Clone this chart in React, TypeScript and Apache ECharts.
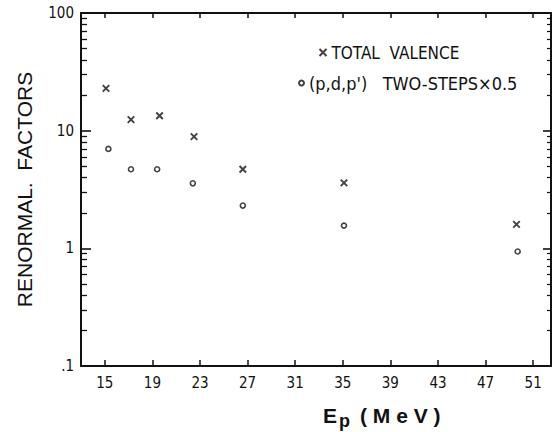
import React, { useEffect, useRef } from "react";
import * as echarts from "echarts";

// ---- data ----
const energiesValence = [15.1, 17.2, 19.6, 22.5, 26.6, 35.1, 49.6];
const valence = [22.9, 12.4, 13.4, 8.9, 4.7, 3.6, 1.6];
const energiesTwoStep = [15.3, 17.2, 19.4, 22.4, 26.6, 35.1, 49.7];
const twoStep = [7.0, 4.7, 4.7, 3.57, 2.31, 1.56, 0.94];

const xTickValues = [15, 19, 23, 27, 31, 35, 39, 43, 47, 51];
const yMajorTickValues = [1, 10];
const decades = [0.1, 1, 10];
const minorMultipliers = [2, 3, 4, 5, 6, 7, 8, 9];

const X_MIN = 13;
const X_MAX = 52.5;
const Y_MIN = 0.1;
const Y_MAX = 100;

const seriesNames = ["TOTAL  VALENCE", "(p,d,p')   TWO-STEPS\u00d70.5"];

const NARROW = "'Liberation Sans Narrow', 'DejaVu Sans Condensed', sans-serif";
const SANS = "'Liberation Sans', Arial, sans-serif";
const INK = "#111";

// auxiliary axis in log10 units, used only to place the tick marks
function tickAxis(position: string, values: number[], len: number, width: number) {
  return {
    type: "value",
    min: Math.log10(Y_MIN),
    max: Math.log10(Y_MAX),
    position,
    axisLine: { show: false, onZero: false },
    axisTick: {
      show: true,
      inside: true,
      length: len,
      customValues: values.map((v) => Math.log10(v)),
      lineStyle: { color: INK, width },
    },
    axisLabel: { show: false },
    splitLine: { show: false },
  };
}

export default function App() {
  const ref = useRef<HTMLDivElement>(null);

  useEffect(() => {
    if (!ref.current) return;
    const chart = echarts.init(ref.current, null, { renderer: "svg" });

    const minorValues: number[] = [];
    decades.forEach((d) => minorMultipliers.forEach((m) => minorValues.push(d * m)));

    const option: any = {
      animation: false,
      backgroundColor: "#fff",
      grid: {
        left: 81,
        right: 1,
        top: 13,
        bottom: 66,
        outerBoundsMode: "none",
      },
      xAxis: [
        {
          type: "value",
          min: X_MIN,
          max: X_MAX,
          position: "bottom",
          axisLine: { show: true, onZero: false, lineStyle: { color: INK, width: 2 } },
          axisTick: {
            show: true,
            inside: true,
            length: 6,
            customValues: xTickValues,
            lineStyle: { color: INK, width: 1.5 },
          },
          axisLabel: {
            customValues: xTickValues,
            margin: 9,
            fontSize: 15,
            color: INK,
            fontFamily: NARROW,
          },
          splitLine: { show: false },
        },
        {
          type: "value",
          min: X_MIN,
          max: X_MAX,
          position: "top",
          axisLine: { show: true, onZero: false, lineStyle: { color: INK, width: 2 } },
          axisTick: {
            show: true,
            inside: true,
            length: 5,
            customValues: xTickValues,
            lineStyle: { color: INK, width: 1.5 },
          },
          axisLabel: { show: false },
          splitLine: { show: false },
        },
      ],
      yAxis: [
        {
          type: "log",
          logBase: 10,
          min: Y_MIN,
          max: Y_MAX,
          position: "left",
          name: "RENORMAL.  FACTORS",
          nameLocation: "middle",
          nameRotate: 90,
          nameGap: 46,
          nameTextStyle: { fontSize: 21, color: INK, fontFamily: SANS },
          axisLine: { show: true, onZero: false, lineStyle: { color: INK, width: 2 } },
          axisTick: { show: false },
          axisLabel: {
            margin: 7,
            fontSize: 15,
            color: INK,
            fontFamily: NARROW,
            formatter: (v: number) => (v < 0.5 ? ".1" : String(Math.round(v))),
          },
          splitLine: { show: false },
        },
        {
          type: "log",
          logBase: 10,
          min: Y_MIN,
          max: Y_MAX,
          position: "right",
          axisLine: { show: true, onZero: false, lineStyle: { color: INK, width: 2 } },
          axisTick: { show: false },
          axisLabel: { show: false },
          splitLine: { show: false },
        },
        tickAxis("left", minorValues, 6, 1.3),
        tickAxis("left", yMajorTickValues, 10, 1.6),
        tickAxis("right", minorValues, 4, 1.2),
        tickAxis("right", yMajorTickValues, 8, 1.6),
      ],
      legend: [
        {
          data: [seriesNames[0]],
          left: 312,
          top: 39,
          itemWidth: 7,
          itemHeight: 7,
          itemGap: 0,
          textStyle: { fontSize: 17, color: INK, fontFamily: NARROW },
        },
        {
          data: [seriesNames[1]],
          left: 293,
          top: 69,
          itemWidth: 5,
          itemHeight: 5,
          itemGap: 0,
          textStyle: { fontSize: 18, color: INK, fontFamily: NARROW },
        },
      ],
      graphic: [
        {
          type: "text",
          x: 323,
          y: 415.5,
          style: {
            text: "E",
            fill: INK,
            font: "bold 21px 'Liberation Sans', Arial, sans-serif",
            verticalAlign: "middle",
            align: "left",
          },
        },
        {
          type: "text",
          x: 339,
          y: 421,
          style: {
            text: "p",
            fill: INK,
            font: "bold 18px 'Liberation Sans', Arial, sans-serif",
            verticalAlign: "middle",
            align: "left",
          },
        },
        {
          type: "text",
          x: 360,
          y: 415.5,
          style: {
            text: "( M e V )",
            fill: INK,
            font: "bold 21px 'Liberation Sans', Arial, sans-serif",
            verticalAlign: "middle",
            align: "left",
          },
        },
      ],
      series: [
        {
          name: seriesNames[0],
          type: "scatter",
          symbol: "path://M0 0L10 10M10 0L0 10",
          symbolSize: 6.5,
          itemStyle: { color: "none", borderColor: INK, borderWidth: 1.9 },
          data: energiesValence.map((e, i) => [e, valence[i]]),
          z: 3,
        },
        {
          name: seriesNames[1],
          type: "scatter",
          symbol: "circle",
          symbolSize: 5,
          itemStyle: { color: "#fff", borderColor: INK, borderWidth: 1.6 },
          data: energiesTwoStep.map((e, i) => [e, twoStep[i]]),
          z: 3,
        },
      ],
    };

    chart.setOption(option);
    return () => chart.dispose();
  }, []);

  return (
    <div
      ref={ref}
      style={{ position: "fixed", left: 0, top: 0, width: 552, height: 432, background: "#fff" }}
    />
  );
}
